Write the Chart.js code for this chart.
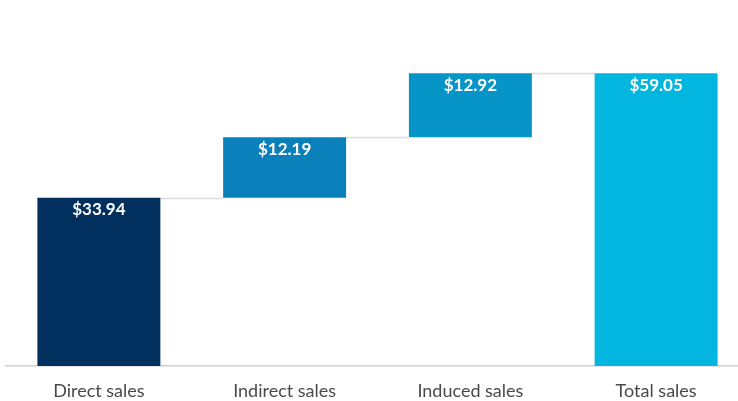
<!DOCTYPE html>
<html>
<head>
<meta charset="utf-8">
<script src="https://cdn.jsdelivr.net/npm/chart.js@4/dist/chart.umd.min.js"></script>
<style>
html,body{margin:0;padding:0;background:#fff;overflow:hidden;}
#wrap{width:750px;height:401px;position:relative;}
</style>
</head>
<body>
<div id="wrap"><canvas id="c"></canvas></div>
<script>
const categories = ["Direct sales", "Indirect sales", "Induced sales", "Total sales"];
const amounts = [33.94, 12.19, 12.92, 59.05];
const isTotal = [false, false, false, true];
const labels = ["$33.94", "$12.19", "$12.92", "$59.05"];
const colors = ["#01305f", "#0a80ba", "#0794c7", "#02b6df"];

// build floating ranges from the amounts
const ranges = [];
let run = 0;
for (let i = 0; i < amounts.length; i++) {
  if (isTotal[i]) { ranges.push([0, amounts[i]]); }
  else { ranges.push([run, run + amounts[i]]); run += amounts[i]; }
}

const connectors = {
  id: 'connectors',
  beforeDatasetsDraw(chart) {
    const ctx = chart.ctx;
    const meta = chart.getDatasetMeta(0);
    const y = chart.scales.y;
    ctx.save();
    ctx.strokeStyle = '#dcdcdc';
    ctx.lineWidth = 1.5;
    for (let i = 0; i < meta.data.length - 1; i++) {
      const a = meta.data[i], b = meta.data[i + 1];
      const yy = Math.round(y.getPixelForValue(ranges[i][1])) + 0.5;
      ctx.beginPath();
      ctx.moveTo(a.x + a.width / 2, yy);
      ctx.lineTo(b.x - b.width / 2, yy);
      ctx.stroke();
    }
    ctx.restore();
  }
};

const valueLabels = {
  id: 'valueLabels',
  afterDatasetsDraw(chart) {
    const ctx = chart.ctx;
    const meta = chart.getDatasetMeta(0);
    const y = chart.scales.y;
    ctx.save();
    ctx.fillStyle = '#ffffff';
    ctx.font = 'bold 17px Lato';
    ctx.textAlign = 'center';
    ctx.textBaseline = 'middle';
    meta.data.forEach((bar, i) => {
      const top = y.getPixelForValue(ranges[i][1]);
      ctx.fillText(labels[i], bar.x, top + 12);
    });
    ctx.restore();
  }
};

new Chart(document.getElementById('c'), {
  type: 'bar',
  data: {
    labels: categories,
    datasets: [{
      data: ranges,
      backgroundColor: colors,
      borderWidth: 0,
      barPercentage: 0.662,
      categoryPercentage: 1.0
    }]
  },
  options: {
    responsive: true,
    maintainAspectRatio: false,
    animation: false,
    layout: { padding: { left: 6, right: 1, top: 19, bottom: 0 } },
    plugins: { legend: { display: false }, tooltip: { enabled: false } },
    scales: {
      x: {
        grid: { display: false, drawTicks: false },
        border: { display: true, color: '#cfcfcf', width: 1.5 },
        ticks: { color: '#4a4a4a', font: { family: 'Lato', size: 18 }, padding: 14 },
        afterFit(scale) { scale.height = 35; }
      },
      y: {
        display: false,
        min: 0,
        max: 70
      }
    }
  },
  plugins: [connectors, valueLabels]
});
</script>
</body>
</html>
